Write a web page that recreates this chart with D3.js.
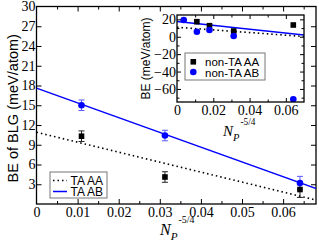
<!DOCTYPE html>
<html><head><meta charset="utf-8">
<script src="https://cdn.jsdelivr.net/npm/d3@7"></script>
<style>
html,body{margin:0;padding:0;background:#fff;}
svg{display:block;}
.tick text{font-family:"Liberation Serif","Times New Roman",serif;}
</style></head>
<body>
<svg id="c" width="319" height="244"></svg>
<script>
// ---- data ----
const xTA = [0.01095, 0.03125, 0.0641];
const taAA = [10.3, 4.1, 2.2];
const taAAerr = [0.8, 0.8, 1.2];
const taAB = [15.0, 10.4, 3.2];
const taABerr = [0.8, 0.8, 1.0];
const fitX = [0, 0.07];
const fitAA = [10.9, 0.3];
const fitAB = [17.6, 1.9];
const xNonAA = [0.01095, 0.0179, 0.03125, 0.0641];
const nonAA = [17.3, 12.7, 6.6, 13.5];
const xNonAB = [0.0037, 0.01095, 0.0179, 0.03125, 0.0641];
const nonAB = [19.3, 5.8, 7.8, 0.9, -71.9];
const mainYTicks = [3, 6, 9, 12, 15, 18, 21, 24, 27, 30];
const mainXTicks = [0, 0.01, 0.02, 0.03, 0.04, 0.05, 0.06];
const insetYTicks = [20, 0, -20, -40, -60];
const insetXTicks = [0, 0.02, 0.04, 0.06];
const legendMain = ["TA AA", "TA AB"];
const legendInset = ["non-TA AA", "non-TA AB"];

const BLUE = "#0000ff";
const svg = d3.select("#c");

// ---- main plot ----
const M = {l: 36.5, r: 316, t: 6.5, b: 204};
const x = d3.scaleLinear().domain([0, 0.068]).range([M.l, M.r]);
const y = d3.scaleLinear().domain([0, 30]).range([M.b, M.t]);

const g = svg.append("g");
const defs = svg.append("defs");
defs.append("clipPath").attr("id", "mclip").append("rect")
  .attr("x", M.l).attr("y", M.t).attr("width", M.r - M.l).attr("height", M.b - M.t);

function inwardAxes(gp, xs, ys, xMajor, xMinor, yMajor, yMinor, L, majLen, minLen) {
  const ax = [];
  ax.push(gp.append("g").attr("transform", `translate(0,${L.b})`)
    .call(d3.axisTop(xs).tickValues(xMinor).tickSize(minLen).tickFormat("")));
  ax.push(gp.append("g").attr("transform", `translate(0,${L.b})`)
    .call(d3.axisTop(xs).tickValues(xMajor).tickSize(majLen).tickFormat("")));
  ax.push(gp.append("g").attr("transform", `translate(0,${L.t})`)
    .call(d3.axisBottom(xs).tickValues(xMinor).tickSize(minLen).tickFormat("")));
  ax.push(gp.append("g").attr("transform", `translate(0,${L.t})`)
    .call(d3.axisBottom(xs).tickValues(xMajor).tickSize(majLen).tickFormat("")));
  ax.push(gp.append("g").attr("transform", `translate(${L.l},0)`)
    .call(d3.axisRight(ys).tickValues(yMinor).tickSize(minLen).tickFormat("")));
  ax.push(gp.append("g").attr("transform", `translate(${L.l},0)`)
    .call(d3.axisRight(ys).tickValues(yMajor).tickSize(majLen).tickFormat("")));
  ax.push(gp.append("g").attr("transform", `translate(${L.r},0)`)
    .call(d3.axisLeft(ys).tickValues(yMinor).tickSize(minLen).tickFormat("")));
  ax.push(gp.append("g").attr("transform", `translate(${L.r},0)`)
    .call(d3.axisLeft(ys).tickValues(yMajor).tickSize(majLen).tickFormat("")));
  ax.forEach(a => { a.select(".domain").remove(); a.selectAll("line").attr("stroke", "#000").attr("stroke-width", 1); });
  gp.append("rect").attr("x", L.l).attr("y", L.t).attr("width", L.r - L.l).attr("height", L.b - L.t)
    .attr("fill", "none").attr("stroke", "#000").attr("stroke-width", 1.3);
}

const mainXMinor = [0.005, 0.015, 0.025, 0.035, 0.045, 0.055, 0.065];
const mainYMinor = [];
inwardAxes(g, x, y, mainXTicks.filter(d => d > 0), mainXMinor, mainYTicks.filter(d => d < 30), mainYMinor, M, 5, 3);

const yl = g.append("g").attr("transform", `translate(${M.l},0)`)
  .call(d3.axisLeft(y).tickValues(mainYTicks).tickSize(0).tickPadding(1).tickFormat(d3.format("d")));
yl.select(".domain").remove();
yl.selectAll("text").attr("font-size", 14).attr("fill", "#000");
const xl = g.append("g").attr("transform", `translate(0,${M.b})`)
  .call(d3.axisBottom(x).tickValues(mainXTicks).tickSize(0).tickPadding(3).tickFormat(d => d === 0 ? "0" : d3.format(".2f")(d)));
xl.select(".domain").remove();
xl.selectAll("text").attr("font-size", 14).attr("fill", "#000");

const lineGen = (xs, ys) => d3.line().x(d => xs(d[0])).y(d => ys(d[1]));
const pg = g.append("g").attr("clip-path", "url(#mclip)");
pg.append("path").datum(fitX.map((d, i) => [d, fitAA[i]])).attr("d", lineGen(x, y))
  .attr("fill", "none").attr("stroke", "#000").attr("stroke-width", 1.6).attr("stroke-dasharray", "1.5,3");
pg.append("path").datum(fitX.map((d, i) => [d, fitAB[i]])).attr("d", lineGen(x, y))
  .attr("fill", "none").attr("stroke", BLUE).attr("stroke-width", 1.5);

function errBars(xs, ys, xv, yv, ev, col) {
  xv.forEach((xx, i) => {
    const px = xs(xx), y1 = ys(yv[i] + ev[i]), y2 = ys(yv[i] - ev[i]);
    pg.append("line").attr("x1", px).attr("x2", px).attr("y1", y1).attr("y2", y2).attr("stroke", col).attr("stroke-width", 1);
    [y1, y2].forEach(yy => pg.append("line").attr("x1", px - 3).attr("x2", px + 3).attr("y1", yy).attr("y2", yy).attr("stroke", col).attr("stroke-width", 1));
  });
}
errBars(x, y, xTA, taAA, taAAerr, "#222");
errBars(x, y, xTA, taAB, taABerr, "#5a5aff");
pg.selectAll(".sqA").data(xTA).enter().append("rect")
  .attr("x", (d) => x(d) - 2.8).attr("y", (d, i) => y(taAA[i]) - 2.8).attr("width", 5.6).attr("height", 5.6).attr("fill", "#000");
pg.selectAll(".ciB").data(xTA).enter().append("circle")
  .attr("cx", d => x(d)).attr("cy", (d, i) => y(taAB[i])).attr("r", 3.3).attr("fill", BLUE);

const lg = g.append("g");
lg.append("rect").attr("x", 50).attr("y", 172).attr("width", 57).attr("height", 26)
  .attr("fill", "#fff").attr("stroke", "#777").attr("stroke-width", 1);
lg.append("line").attr("x1", 53).attr("x2", 67).attr("y1", 180.5).attr("y2", 180.5)
  .attr("stroke", "#000").attr("stroke-width", 1.6).attr("stroke-dasharray", "1.5,3");
lg.append("line").attr("x1", 53).attr("x2", 67).attr("y1", 191.5).attr("y2", 191.5)
  .attr("stroke", BLUE).attr("stroke-width", 1.5);
lg.selectAll("text").data(legendMain).enter().append("text")
  .attr("x", 70.5).attr("y", (d, i) => 184.5 + i * 11).text(d => d)
  .attr("font-family", "Liberation Sans, Arial, sans-serif").attr("font-size", 12);

g.append("text").attr("transform", `translate(17.5,${(M.t + M.b) / 2 + 3}) rotate(-90)`)
  .attr("text-anchor", "middle").attr("font-family", "Liberation Sans, Arial, sans-serif").attr("font-size", 14.5)
  .text("BE of BLG (meV/atom)");
function npLabel(px, py, fs) {
  const t = svg.append("text").attr("x", px).attr("y", py)
    .attr("font-family", "Liberation Serif, Times New Roman, serif").attr("font-size", fs);
  t.append("tspan").attr("font-style", "italic").text("N");
  t.append("tspan").attr("font-style", "italic").attr("font-size", fs * 0.7).attr("dy", fs * 0.3).text("P");
  t.append("tspan").attr("font-size", fs * 0.62).attr("dy", -fs * 1.05).attr("dx", 1).text("-5/4");
}
npLabel(160, 235, 16);

// ---- inset ----
const I = {l: 177, r: 304, t: 15, b: 102};
const xi = d3.scaleLinear().domain([0, 0.07]).range([I.l, I.r]);
const yi = d3.scaleLinear().domain([-75, 25]).range([I.b, I.t]);
const ig = svg.append("g");
ig.append("rect").attr("x", I.l).attr("y", I.t).attr("width", I.r - I.l).attr("height", I.b - I.t).attr("fill", "#fff");
defs.append("clipPath").attr("id", "iclip").append("rect")
  .attr("x", I.l).attr("y", I.t).attr("width", I.r - I.l).attr("height", I.b - I.t);
const ipg = ig.append("g").attr("clip-path", "url(#iclip)");
ipg.append("path").datum(fitX.map((d, i) => [d, fitAA[i]])).attr("d", lineGen(xi, yi))
  .attr("fill", "none").attr("stroke", "#000").attr("stroke-width", 1.6).attr("stroke-dasharray", "1.5,3");
ipg.append("path").datum(fitX.map((d, i) => [d, fitAB[i]])).attr("d", lineGen(xi, yi))
  .attr("fill", "none").attr("stroke", BLUE).attr("stroke-width", 1.5);
ipg.selectAll(".sq").data(xNonAA).enter().append("rect")
  .attr("x", d => xi(d) - 2.8).attr("y", (d, i) => yi(nonAA[i]) - 2.8).attr("width", 5.6).attr("height", 5.6).attr("fill", "#000");
ipg.selectAll(".ci").data(xNonAB).enter().append("circle")
  .attr("cx", d => xi(d)).attr("cy", (d, i) => yi(nonAB[i])).attr("r", 3.3).attr("fill", BLUE);

inwardAxes(ig, xi, yi, insetXTicks.filter(d => d > 0), [0.01, 0.03, 0.05], insetYTicks, [10, -10, -30, -50, -70], I, 4, 2.5);
const iyl = ig.append("g").attr("transform", `translate(${I.l},0)`)
  .call(d3.axisLeft(yi).tickValues(insetYTicks).tickSize(0).tickPadding(1).tickFormat(d3.format("d")));
iyl.select(".domain").remove();
iyl.selectAll("text").attr("font-size", 14).attr("fill", "#000");
const ixl = ig.append("g").attr("transform", `translate(0,${I.b})`)
  .call(d3.axisBottom(xi).tickValues(insetXTicks).tickSize(0).tickPadding(3).tickFormat(d => d === 0 ? "0" : d3.format(".2f")(d)));
ixl.select(".domain").remove();
ixl.selectAll("text").attr("font-size", 14).attr("fill", "#000");

const il = ig.append("g");
il.append("rect").attr("x", 185).attr("y", 53).attr("width", 80).attr("height", 27)
  .attr("fill", "#fff").attr("stroke", "#777").attr("stroke-width", 1);
il.append("rect").attr("x", 190.5).attr("y", 59).attr("width", 5.6).attr("height", 5.6).attr("fill", "#000");
il.append("circle").attr("cx", 193.3).attr("cy", 72).attr("r", 3.3).attr("fill", BLUE);
il.selectAll("text").data(legendInset).enter().append("text")
  .attr("x", 205).attr("y", (d, i) => 66 + i * 10.5).text(d => d)
  .attr("font-family", "Liberation Sans, Arial, sans-serif").attr("font-size", 11.5);

ig.append("text").attr("transform", `translate(150,${(I.t + I.b) / 2}) rotate(-90)`)
  .attr("text-anchor", "middle").attr("font-family", "Liberation Sans, Arial, sans-serif").attr("font-size", 12)
  .text("BE (meV/atom)");
npLabel(223, 136, 15);
</script>
</body></html>
